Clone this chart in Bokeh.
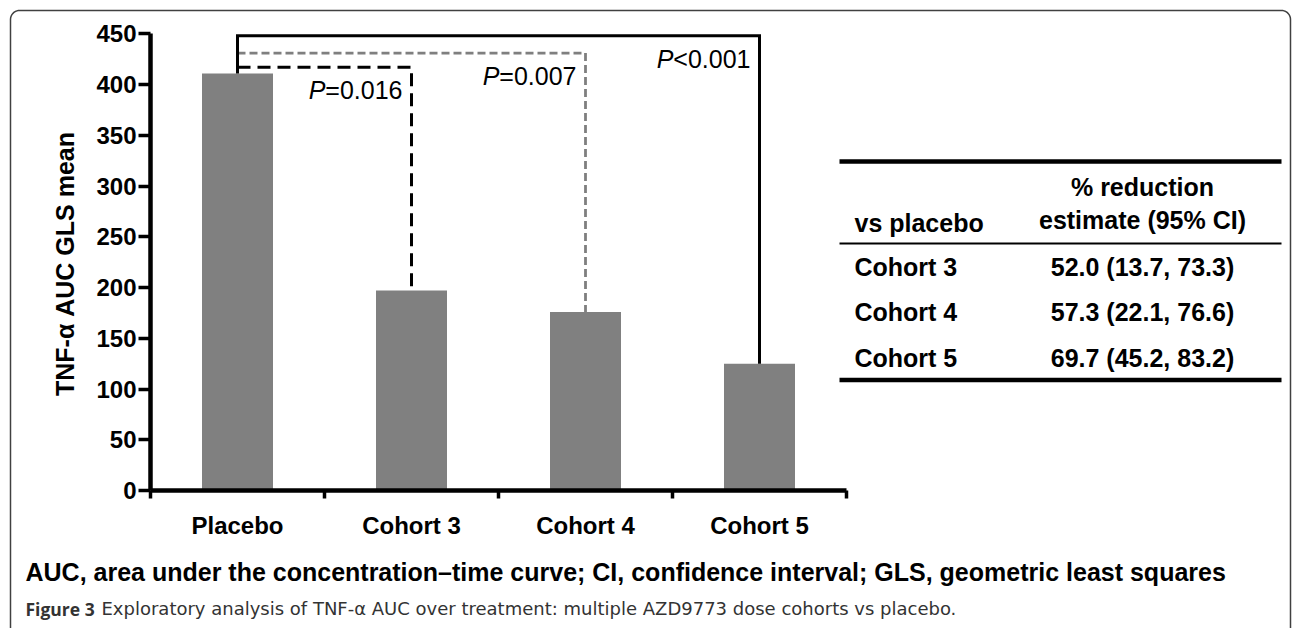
import numpy as np
from bokeh.plotting import figure
from bokeh.models import Range1d, LinearAxis, FixedTicker
from bokeh.core.properties import value
from bokeh.embed import file_html
from bokeh.resources import INLINE

# ---------------- data ----------------
categories = ["Placebo", "Cohort 3", "Cohort 4", "Cohort 5"]
gls_mean = [411, 197, 176, 125]
y_ticks = [0, 50, 100, 150, 200, 250, 300, 350, 400, 450]
y_label = "TNF-\u03b1 AUC GLS mean"

cmp_index = [1, 2, 3]                 # compared against placebo (index 0)
cmp_bracket = [417, 431, 448]         # bracket height (axis units)
cmp_p_text = ["=0.016", "=0.007", "<0.001"]

table_header = ["vs placebo", "% reduction", "estimate (95% CI)"]
table_rows = ["Cohort 3", "Cohort 4", "Cohort 5"]
table_values = ["52.0 (13.7, 73.3)", "57.3 (22.1, 76.6)", "69.7 (45.2, 83.2)"]

footnote = ("AUC, area under the concentration\u2013time curve; CI, confidence interval; "
            "GLS, geometric least squares")
caption_bold = "Figure 3"
caption_rest = ("Exploratory analysis of TNF-\u03b1 AUC over treatment: multiple AZD9773 "
                "dose cohorts vs placebo.")

# ---------------- layout constants ----------------
W, H = 1295, 628
FONT = value("Liberation Sans")


def Y(py):
    """picture y (from top) -> default-range y"""
    return H - py


X0, PXU = 150.0, 174.0           # x of first category edge, px per category
Y0, PYV = 490.0, 456.7 / 450.0   # y of value 0, px per value unit

p = figure(width=W, height=H, x_range=Range1d(0, W), y_range=Range1d(0, H),
           x_axis_type=None, y_axis_type=None, toolbar_location=None,
           output_backend="svg", min_border=0, outline_line_color=None)
p.extra_x_ranges = {"cat": Range1d((0 - X0) / PXU, (W - X0) / PXU)}
p.extra_y_ranges = {"val": Range1d(-(H - Y0) / PYV, Y0 / PYV)}

n = len(categories)
centers = [i + 0.5 for i in range(n)]
bounds_ticks = [i for i in range(n + 1)]

# bars
p.vbar(x=centers, top=gls_mean, bottom=0, width=71 / PXU, fill_color="#808080",
       line_color=None, x_range_name="cat", y_range_name="val")

# axes
yax = LinearAxis(x_range_name="cat", y_range_name="val", fixed_location=0,
                 bounds=(y_ticks[0], y_ticks[-1]),
                 ticker=FixedTicker(ticks=y_ticks, minor_ticks=[]),
                 axis_line_width=4.5, axis_line_color="black",
                 major_tick_in=0, major_tick_out=12, major_tick_line_width=3.5,
                 major_tick_line_color="black", minor_tick_line_color=None,
                 major_label_text_font="Liberation Sans",
                 major_label_text_font_style="bold",
                 major_label_text_font_size="24px",
                 major_label_text_color="black", major_label_standoff=2)
p.add_layout(yax, "left")

xax = LinearAxis(x_range_name="cat", y_range_name="val", fixed_location=0,
                 bounds=(0, n),
                 ticker=FixedTicker(ticks=centers, minor_ticks=bounds_ticks),
                 axis_line_width=4.5, axis_line_color="black",
                 major_tick_in=0, major_tick_out=0, major_tick_line_color=None,
                 minor_tick_in=0, minor_tick_out=8, minor_tick_line_width=3.5,
                 minor_tick_line_color="black",
                 major_label_overrides={c: name for c, name in zip(centers, categories)},
                 major_label_text_font="Liberation Sans",
                 major_label_text_font_style="bold",
                 major_label_text_font_size="24px",
                 major_label_text_color="black", major_label_standoff=13)
p.add_layout(xax, "below")

# y axis title
p.text(x=[(64 - X0) / PXU], y=[(Y0 - 263.5) / PYV], text=[y_label],
       angle=np.pi / 2, text_align="center", text_baseline="middle",
       text_font=FONT, text_font_style="bold", text_font_size="25px",
       text_color="black", x_range_name="cat", y_range_name="val")

# significance brackets
styles = [dict(line_color="black", line_width=3, line_dash="13 7"),
          dict(line_color="#7f7f7f", line_width=2.8, line_dash="8 4"),
          dict(line_color="black", line_width=3, line_dash="solid")]
for k, (i, h, txt) in enumerate(zip(cmp_index, cmp_bracket, cmp_p_text)):
    st = styles[k]
    if st["line_dash"] == "solid":
        xs = [centers[0], centers[0], centers[i], centers[i]]
        ys = [gls_mean[0], h, h, gls_mean[i]]
    else:
        xs = [centers[0], centers[i], centers[i]]
        ys = [h, h, gls_mean[i]]
    p.line(x=xs, y=ys, line_join="miter", x_range_name="cat", y_range_name="val", **st)
    p.text(x=[centers[i]], y=[h], text=[txt], x_offset=-9, y_offset=23,
           text_align="right", text_baseline="middle", text_font=FONT,
           text_font_size="25px", text_color="black",
           x_range_name="cat", y_range_name="val")
    p.text(x=[centers[i]], y=[h], text=["P"], x_offset=-9 - 3.086 * 25, y_offset=23,
           text_align="right", text_baseline="middle", text_font=FONT,
           text_font_style="italic", text_font_size="25px", text_color="black",
           x_range_name="cat", y_range_name="val")

# table
TL, TR = 839, 1281
p.segment(x0=[TL, TL, TL], x1=[TR, TR, TR], y0=[Y(161), Y(243), Y(379.5)],
          y1=[Y(161), Y(243), Y(379.5)], line_color="black",
          line_width=[4.5, 2, 4.5])
tkw = dict(text_font=FONT, text_font_style="bold", text_font_size="25px",
           text_color="black", text_baseline="middle")
p.text(x=[854], y=[Y(222)], text=[table_header[0]], text_align="left", **tkw)
p.text(x=[1142, 1142], y=[Y(186), Y(219)], text=table_header[1:], text_align="center", **tkw)
row_y = [Y(266 + 45.5 * r) for r in range(len(table_rows))]
p.text(x=[854] * len(table_rows), y=row_y, text=table_rows, text_align="left", **tkw)
p.text(x=[1142] * len(table_rows), y=row_y, text=table_values, text_align="center", **tkw)

# footnote + caption
p.text(x=[25], y=[Y(571)], text=[footnote], text_align="left", text_baseline="middle",
       text_font=FONT, text_font_style="bold", text_font_size="25px", text_color="black")
p.text(x=[25], y=[Y(608)], text=[caption_bold], text_align="left", text_baseline="middle",
       text_font=value("Open Sans"), text_font_style="bold", text_font_size="17.5px",
       text_color="#333333")
p.text(x=[101], y=[Y(608)], text=[caption_rest], text_align="left", text_baseline="middle",
       text_font=value("DejaVu Sans"), text_font_size="18px", text_color="#333333")

# rounded outer frame
r = 9
L, R, T, B = 10, 1290, 10, 680
a1 = np.linspace(np.pi, 1.5 * np.pi, 12)
a2 = np.linspace(1.5 * np.pi, 2 * np.pi, 12)
fx = [L] + list(L + r + r * np.cos(a1)) + list(R - r + r * np.cos(a2)) + [R]
fy = [B] + list(T + r + r * np.sin(a1)) + list(T + r + r * np.sin(a2)) + [B]
p.line(x=fx, y=[Y(v) for v in fy], line_color="#404040", line_width=1.5)

open("out.html", "w").write(file_html(p, INLINE))
